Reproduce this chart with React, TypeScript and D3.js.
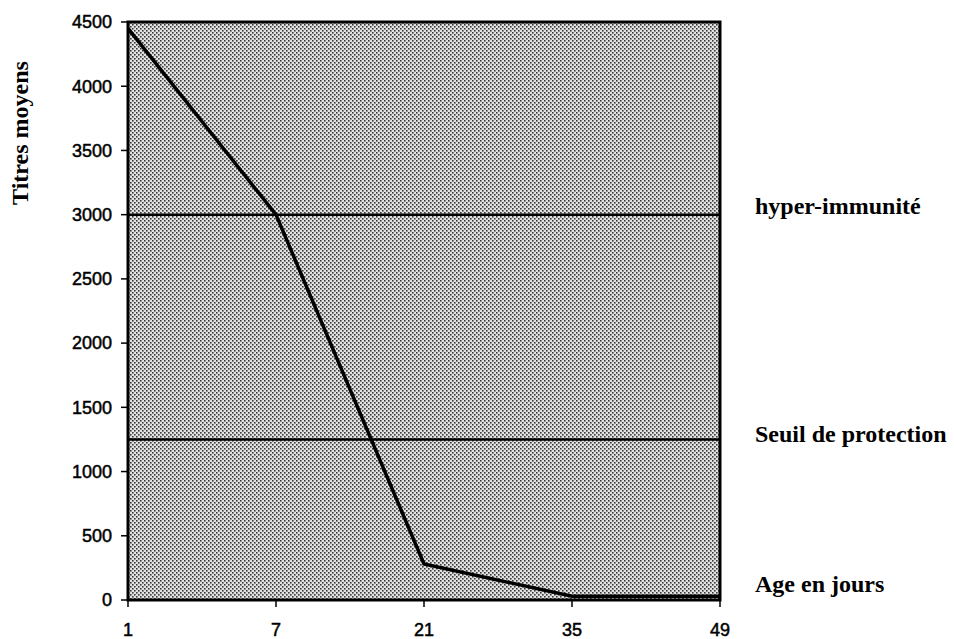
import React from "react";
import * as d3 from "d3";

const ages = ["1", "7", "21", "35", "49"];
const titres = [4450, 3000, 280, 30, 30];
const yTicks = [0, 500, 1000, 1500, 2000, 2500, 3000, 3500, 4000, 4500];
const refLevels = [
  { value: 3000, label: "hyper-immunité" },
  { value: 1250, label: "Seuil de protection" },
];
const yTitle = "Titres moyens";
const xTitle = "Age en jours";

export default function App() {
  const W = 954, H = 639;
  const left = 128, right = 720, top = 22, bottom = 600;
  const x = d3.scalePoint<string>().domain(ages).range([left, right]).padding(0);
  const y = d3.scaleLinear().domain([0, 4500]).range([bottom, top]);
  const line = d3
    .line<number>()
    .x((_, i) => x(ages[i]) as number)
    .y((d) => y(d));
  const sans = "'Liberation Sans', Arial, sans-serif";
  const serif = "'Liberation Serif', 'Times New Roman', serif";
  return (
    <svg
      width={W}
      height={H}
      style={{ position: "absolute", left: 0, top: 0, background: "#fff" }}
    >
      <defs>
        <pattern id="stip" width={4} height={4} patternUnits="userSpaceOnUse">
          <rect width={4} height={4} fill="#e2e2e2" />
          <rect x={0} y={0} width={1.6} height={1.6} fill="#3a3a3a" />
          <rect x={2} y={2} width={1.6} height={1.6} fill="#3a3a3a" />
        </pattern>
      </defs>
      <rect x={left} y={top} width={right - left} height={bottom - top} fill="url(#stip)" />
      {refLevels.map((r, i) => (
        <g key={r.label}>
          <line x1={left} x2={right} y1={y(r.value)} y2={y(r.value)} stroke="#000" strokeWidth={2.5} />
          <text
            x={755}
            y={y(r.value) + (i === 0 ? -1 : 3)}
            fontFamily={serif}
            fontWeight="bold"
            fontSize={24}
            fill="#000"
          >
            {r.label}
          </text>
        </g>
      ))}
      <rect x={left} y={top} width={right - left} height={bottom - top} fill="none" stroke="#000" strokeWidth={3} />
      <path d={line(titres) ?? ""} fill="none" stroke="#000" strokeWidth={3.5} strokeLinejoin="miter" />
      {yTicks.map((t) => (
        <g key={t}>
          <line x1={left - 7} x2={left} y1={y(t)} y2={y(t)} stroke="#000" strokeWidth={1.5} />
          <text
            x={left - 16}
            y={y(t)}
            dy="0.35em"
            textAnchor="end"
            fontFamily={sans}
            fontSize={18}
            stroke="#000"
            strokeWidth={0.5}
            fill="#000"
          >
            {t}
          </text>
        </g>
      ))}
      {ages.map((a) => (
        <g key={a}>
          <line x1={x(a)} x2={x(a)} y1={bottom} y2={bottom + 7} stroke="#000" strokeWidth={1.5} />
          <text
            x={x(a)}
            y={636}
            textAnchor="middle"
            fontFamily={sans}
            fontSize={18}
            stroke="#000"
            strokeWidth={0.5}
            fill="#000"
          >
            {a}
          </text>
        </g>
      ))}
      <text
        transform={`translate(28,133) rotate(-90)`}
        textAnchor="middle"
        fontFamily={serif}
        fontWeight="bold"
        fontSize={24}
        fill="#000"
      >
        {yTitle}
      </text>
      <text x={755} y={592} fontFamily={serif} fontWeight="bold" fontSize={24} fill="#000">
        {xTitle}
      </text>
    </svg>
  );
}
